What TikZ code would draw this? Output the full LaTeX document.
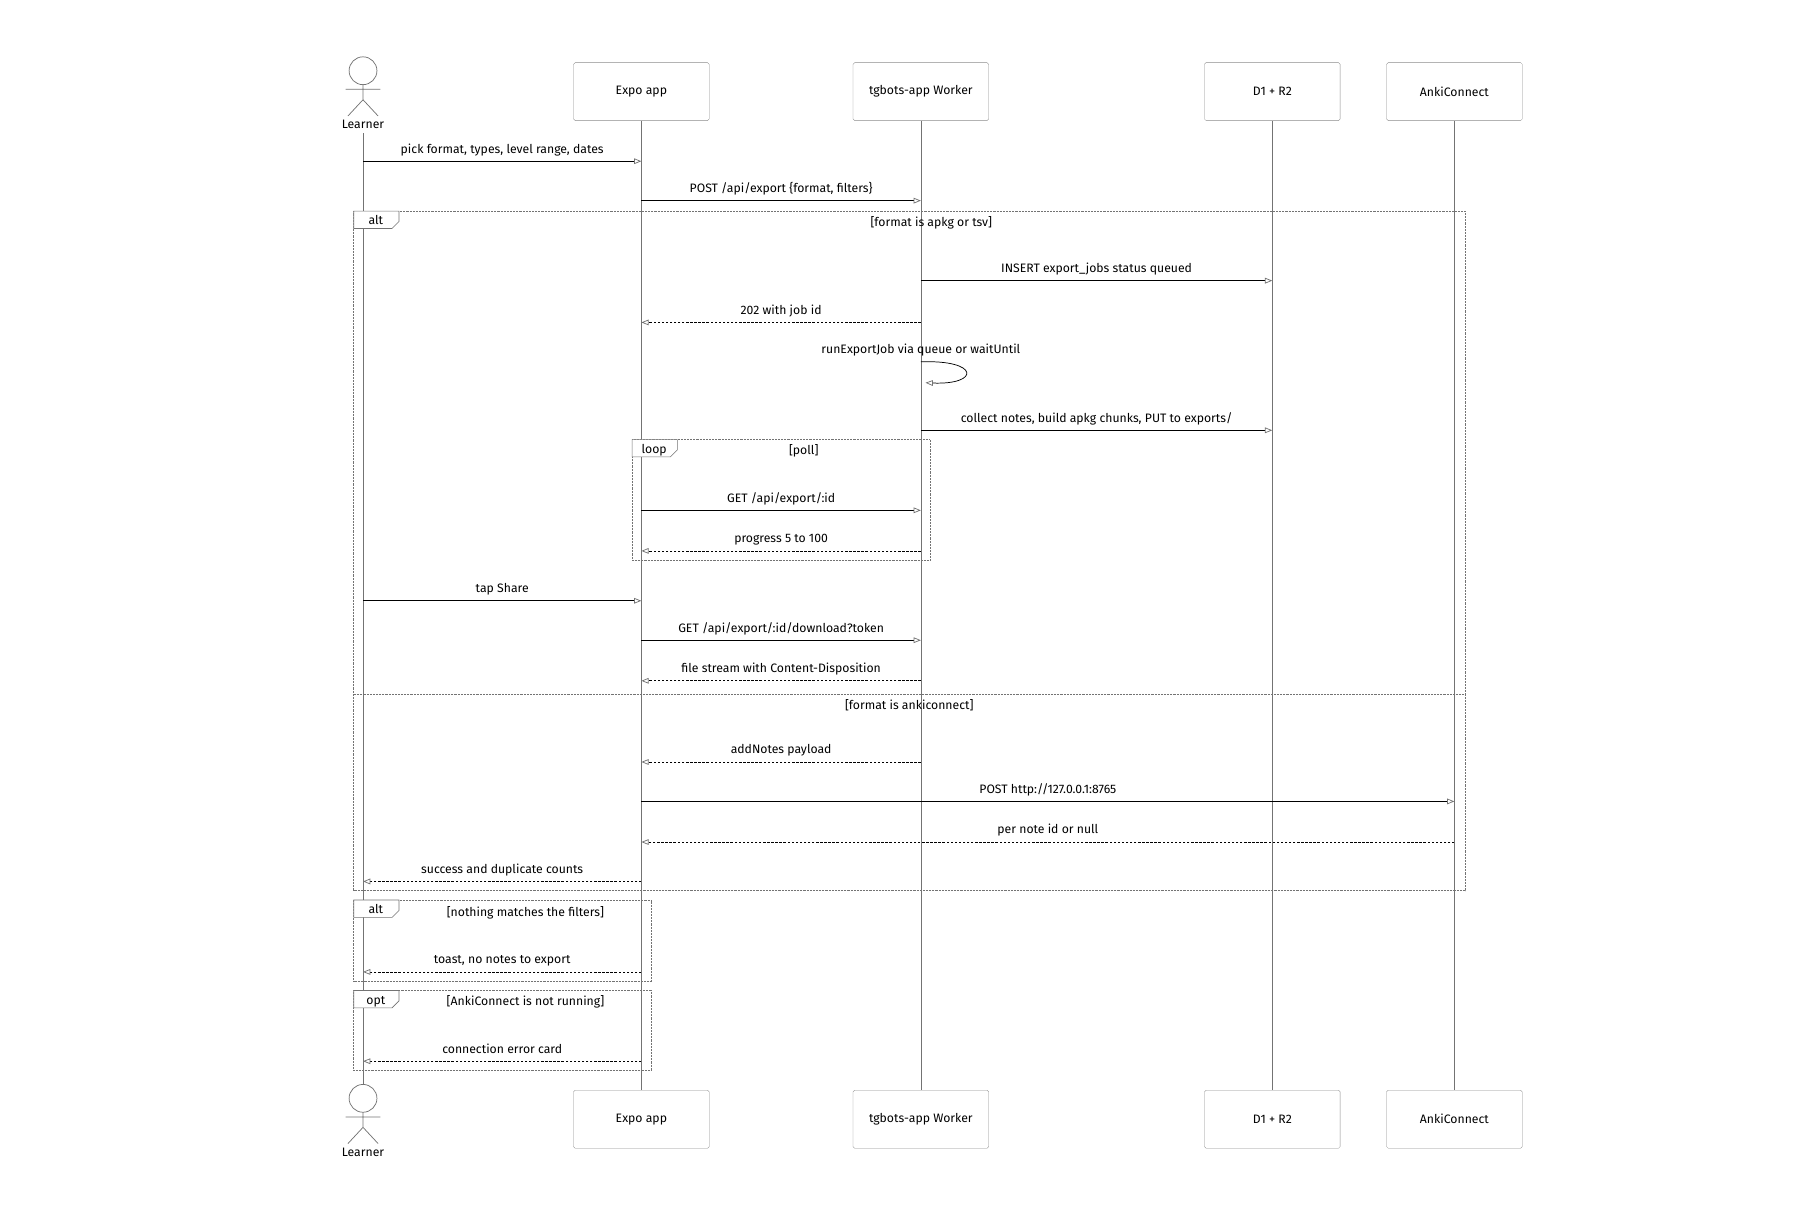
\documentclass[tikz,border=0pt]{standalone}
\usepackage{fontspec}
\setmainfont{Fira Sans}
\usetikzlibrary{arrows.meta,calc}
\begin{document}
\begin{tikzpicture}[x=0.05cm,y=-0.05cm,
  font=\fontsize{15}{18}\selectfont,
  box/.style={draw=black!45,rounded corners=2pt,minimum width=5.85cm,minimum height=2.5cm,fill=white},
  life/.style={draw=black!55,line width=0.9pt},
  msg/.style={draw=black,line width=0.9pt,-{Triangle[open,length=9pt,width=7pt,color=black!55]}},
  ret/.style={msg,densely dashed},
  lbl/.style={font=\fontsize{15}{18}\selectfont,anchor=base},
  frame/.style={draw=black!55,densely dotted,line width=0.8pt},
  actor/.style={draw=black!55,line width=0.9pt}]
\useasboundingbox (0,0) rectangle (1552,1040);
% lifelines
\foreach \n/\x in {L/313,E/553,W/794,D/1097,A/1254}{
  \coordinate (\n) at (\x,0);
}
\draw[life] (313,115) -- (313,935);
\foreach \n in {E,W,D,A}{\draw[life] (\n|-0,104) -- (\n|-0,940);}
% boxes
\foreach \n/\t in {E/Expo app,W/tgbots-app Worker,D/D1 + R2,A/AnkiConnect}{
  \node[box] (\n top) at (\n|-0,79) {\t};
  \node[box] (\n bot) at (\n|-0,965) {\t};
}
% actors
\foreach \y/\s in {0/top,886/bot}{
  \draw[actor,fill=white] (313,61+\y) circle (12);
  \draw[actor] (313,73+\y) -- (313,86+\y) (298,77+\y) -- (328,77+\y)
     (313,86+\y) -- (300,100+\y) (313,86+\y) -- (326,100+\y);
  \node[lbl] (learner \s) at (313,111+\y) {Learner};
}
% frames
\newcommand\fr[5]{% x1,y1,x2,y2,label
  \draw[frame] (#1,#2) rectangle (#3,#4);
  \draw[draw=black!55,line width=0.7pt,fill=white] (#1,#2) -- (#1+39,#2) -- (#1+39,#2+9) -- (#1+33,#2+15) -- (#1,#2+15) -- cycle;
  \node[lbl] at (#1+19,#2+12) {#5};}
\fr{305}{182}{1263}{768}{alt}
\fr{545}{379}{802}{483}{loop}
\fr{305}{776}{562}{846}{alt}
\fr{305}{854}{562}{923}{opt}
\draw[frame] (305,599) -- (1263,599);
\node[lbl] at (803,195) {[format is apkg or tsv]};
\node[lbl] at (693,392) {[poll]};
\node[lbl] at (784,612) {[format is ankiconnect]};
\node[lbl] at (453,790) {[nothing matches the filters]};
\node[lbl] at (453,867) {[AnkiConnect is not running]};
% messages
\newcommand\m[5]{% style, from, to, y, text
  \draw[#1] (#2|-0,#4) -- (#3|-0,#4);
  \node[lbl] at ($(#2|-0,#4)!0.5!(#3|-0,#4)+(0,-7)$) {#5};}
\m{msg}{L}{E}{139}{pick format, types, level range, dates}
\m{msg}{E}{W}{173}{POST /api/export \{format, filters\}}
\m{msg}{W}{D}{242}{INSERT export\_jobs status queued}
\m{ret}{W}{E}{278}{202 with job id}
\draw[msg] (794,312) .. controls (845,310) and (845,332) .. (798,330);
\node[lbl] at (794,305) {runExportJob via queue or waitUntil};
\m{msg}{W}{D}{371}{collect notes, build apkg chunks, PUT to exports/}
\m{msg}{E}{W}{440}{GET /api/export/:id}
\m{ret}{W}{E}{475}{progress 5 to 100}
\m{msg}{L}{E}{518}{tap Share}
\m{msg}{E}{W}{552}{GET /api/export/:id/download?token}
\m{ret}{W}{E}{587}{file stream with Content-Disposition}
\m{ret}{W}{E}{657}{addNotes payload}
\m{msg}{E}{A}{691}{POST http://127.0.0.1:8765}
\m{ret}{A}{E}{726}{per note id or null}
\m{ret}{E}{L}{760}{success and duplicate counts}
\m{ret}{E}{L}{838}{toast, no notes to export}
\m{ret}{E}{L}{915}{connection error card}
\end{tikzpicture}
\end{document}
